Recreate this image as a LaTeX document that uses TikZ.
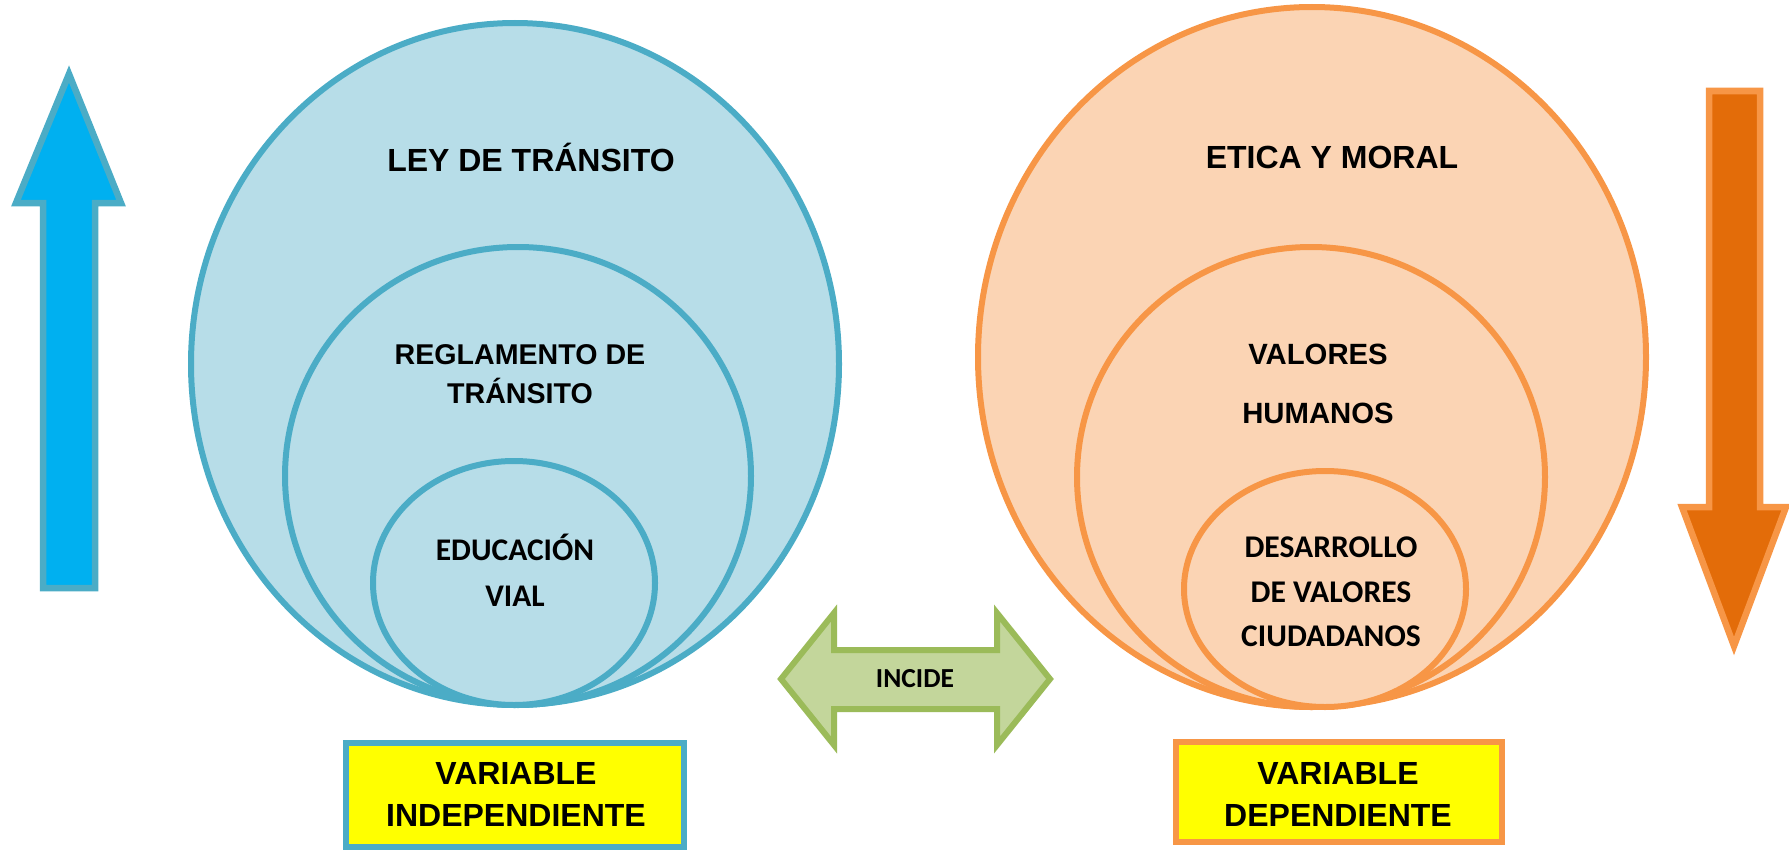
\documentclass[tikz,border=0pt]{standalone}
\usepackage{fontspec}
\setmainfont{Liberation Sans}
\newfontfamily\calibri{Carlito}
\definecolor{ltblue}{HTML}{B7DDE8}
\definecolor{dkblue}{HTML}{4BACC6}
\definecolor{skyblue}{HTML}{00B0F0}
\definecolor{ltorange}{HTML}{FBD4B4}
\definecolor{dkorange}{HTML}{F79646}
\definecolor{burnt}{HTML}{E36C09}
\definecolor{ltgreen}{HTML}{C3D69B}
\definecolor{dkgreen}{HTML}{9BBB59}
\definecolor{boxyellow}{HTML}{FFFF00}
\tikzset{
  txt/.style 2 args={font=\bfseries\fontsize{#1}{#2}\selectfont,align=center,inner sep=0pt},
  txtc/.style 2 args={font=\calibri\bfseries\fontsize{#1}{#2}\selectfont,align=center,inner sep=0pt}
}
\begin{document}
\begin{tikzpicture}[x=1pt,y=-1pt,line width=6pt,line join=miter,
  blueset/.style={fill=ltblue,draw=dkblue},
  orangeset/.style={fill=ltorange,draw=dkorange}]
	\useasboundingbox (0,0) rectangle (1789,851);
	\filldraw[fill=skyblue,draw=dkblue,line width=6.5pt] (69,74)--(121,203)--(95,203)--(95,588)--(43,588)--(43,203)--(16,203)--cycle;
	\filldraw[fill=burnt,draw=dkorange,line width=6.5pt] (1709,91)--(1760,91)--(1760,507)--(1786,507)--(1734,646)--(1682,507)--(1709,507)--cycle;
	\filldraw[blueset] (515,364) ellipse [x radius=324,y radius=341];
	\filldraw[blueset] (518,476) ellipse [x radius=233,y radius=229];
	\filldraw[blueset] (514,583) ellipse [x radius=141,y radius=122];
	\filldraw[orangeset] (1312,357) ellipse [x radius=334,y radius=350];
	\filldraw[orangeset] (1311,477) ellipse [x radius=234,y radius=230];
	\filldraw[orangeset] (1325,589) ellipse [x radius=141,y radius=118];
	\filldraw[fill=ltgreen,draw=dkgreen] (781,679)--(834,613)--(834,650)--(997,650)--(997,613)--(1050,679)--(997,745)--(997,709)--(834,709)--(834,745)--cycle;
	\filldraw[fill=boxyellow,draw=dkblue] (346,743) rectangle (684,847);
	\filldraw[fill=boxyellow,draw=dkorange] (1176,742) rectangle (1502,842);
	\node[txt={32}{40}] (ley) at (531,157) {LEY DE TRÁNSITO};
	\node[txt={28.6}{39}] (reglamento) at (520,374) {REGLAMENTO DE\\TRÁNSITO};
	\node[txtc={31.5}{46}] (educacion) at (515,570) {EDUCACIÓN\\VIAL};
	\node[txt={32}{40}] (etica) at (1332,157) {ETICA Y MORAL};
	\node[txt={29.3}{59}] (valores) at (1318,384) {VALORES\\HUMANOS};
	\node[txtc={31.6}{44.5}] (desarrollo) at (1331,592) {DESARROLLO\\DE VALORES\\CIUDADANOS};
	\node[txtc={27.5}{32}] (incide) at (915,679) {INCIDE};
	\node[txt={32}{42}] (varind) at (516,794) {VARIABLE\\INDEPENDIENTE};
	\node[txt={32}{42}] (vardep) at (1338,794) {VARIABLE\\DEPENDIENTE};
\end{tikzpicture}
\end{document}
